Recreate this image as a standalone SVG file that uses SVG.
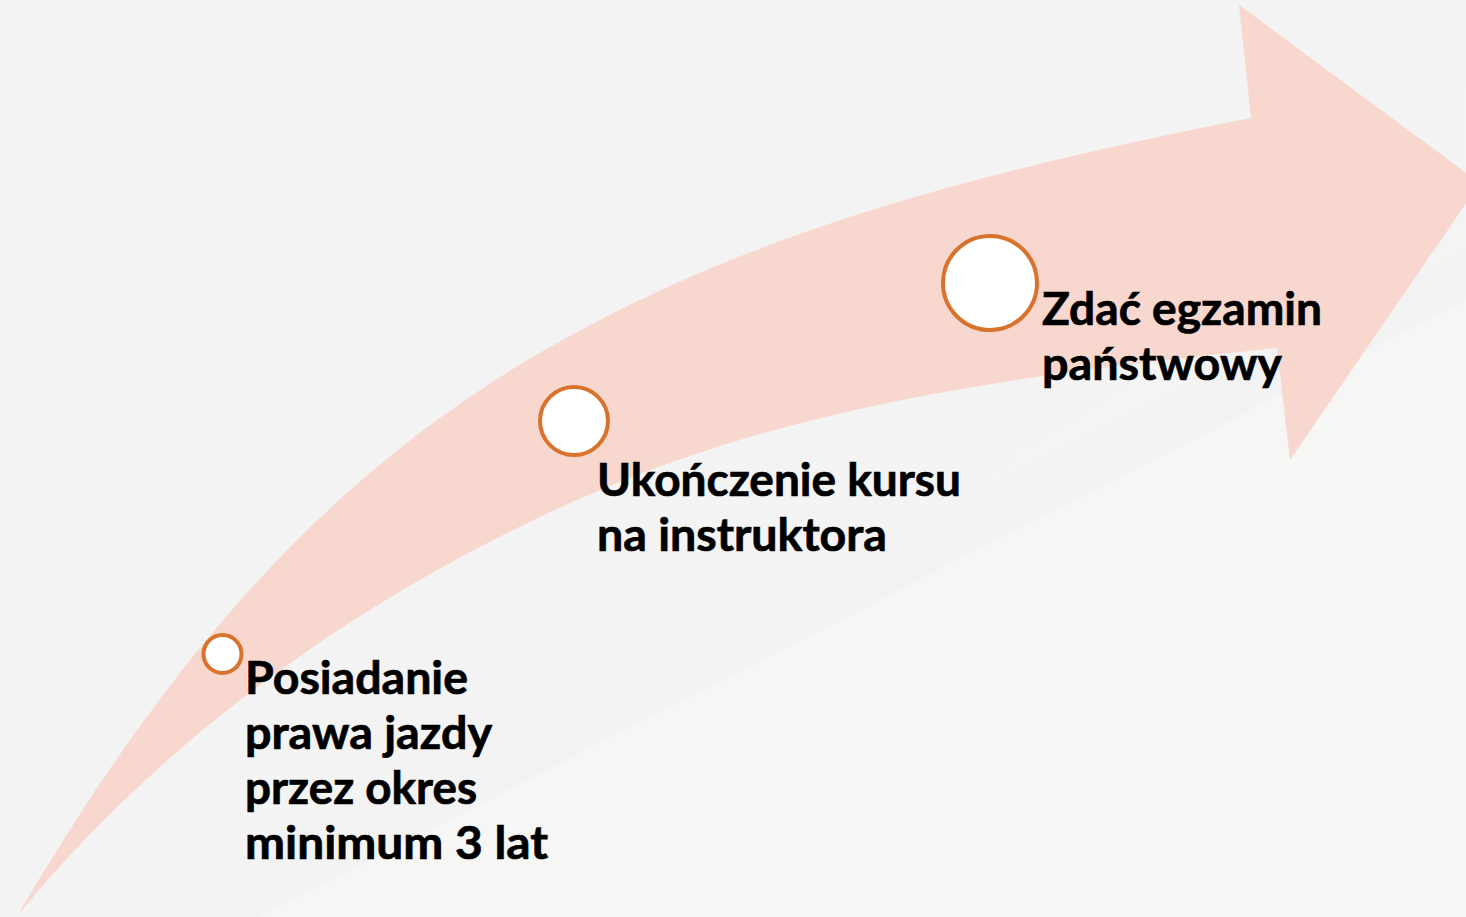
<svg xmlns="http://www.w3.org/2000/svg" width="1466" height="917" viewBox="0 0 1466 917">
  <defs>
    <style>
      .lbl { font-family: Lato, "Open Sans", "Liberation Sans", sans-serif; font-weight: 700; font-size: 45px; fill: #000000; stroke: #000000; stroke-width: 0.7; }
      .dot { fill: #FFFFFF; stroke: #D8722D; stroke-width: 4; }
    </style>
    <linearGradient id="bg" x1="0" y1="0" x2="1" y2="1">
      <stop offset="0" stop-color="#F2F2F2"/>
      <stop offset="1" stop-color="#F5F5F5"/>
    </linearGradient>
  </defs>

  <!-- background -->
  <rect x="0" y="0" width="1466" height="917" fill="url(#bg)"/>
  <polygon points="260,917 1466,300 1466,917" fill="#F6F6F5" opacity="0.8"/>
  <polygon points="120,917 1466,250 1466,300 260,917" fill="#F0F0F0" opacity="0.35"/>

  <!-- curved arrow -->
  <g id="arrow">
    <path d="M 18 915 C 170 655 340 452 600 320 C 801 215 1029 162 1251 118 L 1239 5 L 1480 183 L 1290 460 L 1277 348 C 1048 372 812 400 600 490 C 379 584 170 729 18 915 Z" fill="#F8D8CE"/>
  </g>

  <g id="connectors"></g>

  <g id="step1">
    <circle class="dot" cx="222.5" cy="654" r="19"/>
    <text class="lbl" x="245" y="694" textLength="223" lengthAdjust="spacingAndGlyphs">Posiadanie</text>
    <text class="lbl" x="245" y="749" textLength="247" lengthAdjust="spacingAndGlyphs">prawa jazdy</text>
    <text class="lbl" x="245" y="804" textLength="232" lengthAdjust="spacingAndGlyphs">przez okres</text>
    <text class="lbl" x="245" y="859" textLength="303" lengthAdjust="spacingAndGlyphs">minimum 3 lat</text>
  </g>

  <g id="step2">
    <circle class="dot" cx="574" cy="421" r="34"/>
    <text class="lbl" x="597" y="496" textLength="364" lengthAdjust="spacingAndGlyphs">Ukończenie kursu</text>
    <text class="lbl" x="597" y="551" textLength="290" lengthAdjust="spacingAndGlyphs">na instruktora</text>
  </g>

  <g id="step3">
    <circle class="dot" cx="990" cy="283" r="47"/>
    <text class="lbl" x="1042" y="325" textLength="280" lengthAdjust="spacingAndGlyphs">Zdać egzamin</text>
    <text class="lbl" x="1042" y="380" textLength="240" lengthAdjust="spacingAndGlyphs">państwowy</text>
  </g>
</svg>
